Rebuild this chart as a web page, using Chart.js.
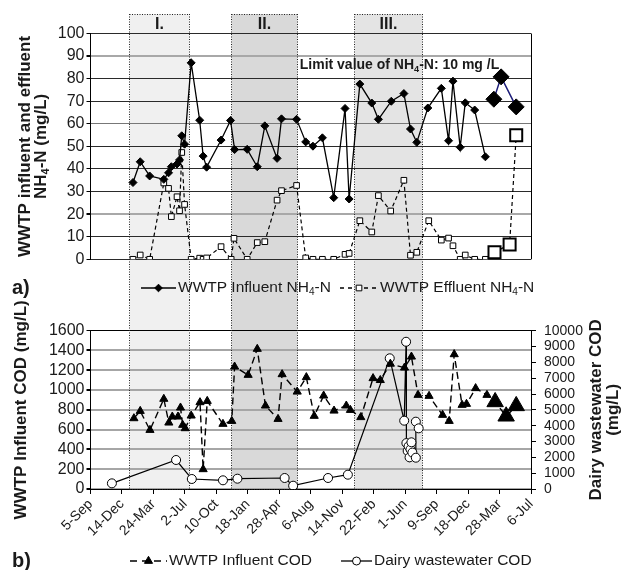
<!DOCTYPE html>
<html lang="en">
<head>
<meta charset="UTF-8">
<title>WWTP NH4-N and COD</title>
<script src="https://cdn.jsdelivr.net/npm/chart.js"></script>
<style>
  body { margin: 0; background: #fff; }
  canvas { display: block; }
</style>
</head>
<body>
<canvas id="nh4Chart" width="624" height="300"></canvas>
<canvas id="codChart" width="624" height="270"></canvas>
<script>
// x values are days counted from 5-Sep (ticks every 100 days)
const xLabels = ['5-Sep', '14-Dec', '24-Mar', '2-Jul', '10-Oct', '18-Jan', '28-Apr', '6-Aug',
                 '14-Nov', '22-Feb', '1-Jun', '9-Sep', '18-Dec', '28-Mar', '6-Jul'];

const bandStart = [122, 445, 837];
const bandEnd = [313, 655, 1055];
const bandNames = ['I.', 'II.', 'III.'];

// a) WWTP influent NH4-N
const nh4InDay = [135, 158, 188, 233, 248, 257, 275, 283, 290, 299, 320, 347, 358, 369, 415, 445, 458,
                  498, 530, 554, 593, 607, 655, 684, 707, 737, 773, 809, 822, 856, 894, 915,
                  956, 996, 1017, 1037, 1072, 1115, 1138, 1152, 1175, 1191, 1221, 1255];
const nh4InVal = [34.0, 43.2, 36.9, 35.4, 38.3, 41.0, 42.2, 44.0, 54.7, 51.0, 87.0, 61.6, 45.7, 40.8, 52.8, 61.5, 48.6,
                  48.7, 41.0, 59.1, 44.7, 62.2, 62.0, 52.0, 50.1, 53.8, 27.3, 66.8, 26.7, 77.6, 69.2, 62.0,
                  70.0, 73.4, 57.7, 51.8, 67.0, 75.7, 52.5, 78.9, 49.6, 69.3, 66.1, 45.4];
// last three influent samples (big markers)
const nh4InLastDay = [1282, 1305, 1353];
const nh4InLastVal = [70.9, 80.8, 67.5];

// a) WWTP effluent NH4-N (last three samples drawn big)
const nh4OutDay = [135, 158, 188, 233, 248, 257, 275, 283, 290, 299, 320, 347, 358, 369, 415, 447, 456,
                   498, 530, 554, 593, 607, 655, 684, 707, 737, 773, 809, 822, 856, 894, 915,
                   954, 996, 1017, 1037, 1075, 1115, 1138, 1152, 1175, 1191, 1221, 1255, 1284, 1332, 1353];
const nh4OutVal = [0, 1.9, 0, 33.8, 31.4, 18.9, 27.7, 21.5, 47.3, 24.3, 0, 0.5, 0, 0.6, 5.6, 0, 9.3,
                   0, 7.4, 7.8, 26.2, 30.4, 32.7, 0.6, 0, 0, 0, 2.2, 2.6, 17.1, 12.1, 28.2,
                   21.4, 35.0, 1.8, 3.1, 17.1, 8.5, 9.4, 6.0, 0, 1.9, 0, 0, 3.1, 6.6, 54.9];

// b) WWTP influent COD (last three samples drawn big)
const codInDay = [138, 158, 189, 233, 249, 260, 278, 286, 293, 301, 320, 348, 358, 371, 421, 449, 458,
                  501, 530, 556, 596, 609, 657, 686, 711, 741, 774, 813, 826, 859,
                  898, 921, 953, 998, 1020, 1041, 1076, 1119, 1140, 1156, 1181, 1195, 1224, 1260, 1286, 1321, 1353];
const codInVal = [714, 788, 596, 910, 670, 731, 731, 822, 647, 613, 741, 876, 199, 889, 657, 687, 1236,
                  1152, 1415, 842, 707, 1159, 983, 1129, 738, 943, 791, 842, 798, 725,
                  1119, 1100, 1265, 1226, 1337, 950, 940, 748, 687, 1361, 849, 859, 1018, 950, 880, 735, 840];

// b) dairy wastewater COD (right axis)
const dairyDay = [68, 272, 322, 421, 467, 617, 644, 755, 818, 951, 997, 1003, 1004, 1008, 1011,
                  1014, 1017, 1020, 1023, 1034, 1034, 1043];
const dairyVal = [358, 1832, 632, 549, 651, 695, 208, 695, 904, 8256, 4316, 9300, 2900, 2400, 2700,
                  2000, 2500, 2950, 2300, 1977, 4253, 3832];

const FONT = '"Liberation Sans", Arial, sans-serif';
Chart.defaults.font.family = FONT;
Chart.defaults.color = '#1a1a1a';

function fnt(size, bold) { return (bold ? 'bold ' : '') + size + 'px ' + FONT; }
function pts(days, vals) { return days.map((d, i) => ({ x: d, y: vals[i] })); }

// text with {sub} parts
function richText(ctx, str, x, y, size, bold, align) {
  const ps = str.split(/(\{[^}]*\})/).filter(s => s).map(s =>
    s[0] === '{' ? { t: s.slice(1, -1), sub: true } : { t: s });
  let w = 0;
  ps.forEach(p => { ctx.font = fnt(p.sub ? size * 0.65 : size, bold); p.w = ctx.measureText(p.t).width; w += p.w; });
  let cx = align === 'center' ? x - w / 2 : x;
  ctx.textAlign = 'left';
  ctx.textBaseline = 'middle';
  ps.forEach(p => {
    ctx.font = fnt(p.sub ? size * 0.65 : size, bold);
    ctx.fillText(p.t, cx, p.sub ? y + size * 0.3 : y);
    cx += p.w;
  });
}
function rotText(ctx, str, x, y, size, bold) {
  ctx.save();
  ctx.translate(x, y);
  ctx.rotate(-Math.PI / 2);
  richText(ctx, str, 0, 0, size, bold, 'center');
  ctx.restore();
}
function legendItem(ctx, x0, x1, y, dash, style, r, fill, label) {
  ctx.save();
  ctx.strokeStyle = '#000';
  ctx.lineWidth = 1.3;
  ctx.setLineDash(dash);
  ctx.beginPath(); ctx.moveTo(x0, y); ctx.lineTo(x1, y); ctx.stroke();
  ctx.setLineDash([]);
  ctx.fillStyle = fill;
  ctx.lineWidth = 1;
  Chart.helpers.drawPoint(ctx, { pointStyle: style, radius: r, rotation: 0, borderWidth: 1 }, (x0 + x1) / 2, y);
  ctx.fillStyle = '#1a1a1a';
  richText(ctx, label, x1 + 2, y, 15.5, false, 'left');
  ctx.restore();
}

const bandPlugin = {
  id: 'bands',
  beforeDraw(chart, args, opts) {
    const ctx = chart.ctx, xs = chart.scales.x;
    const top = opts.top, bottom = opts.edge === 'top' ? chart.height : chart.chartArea.bottom;
    ctx.save();
    bandStart.forEach((s, i) => {
      const x0 = Math.round(xs.getPixelForValue(s)) + 0.5;
      const x1 = Math.round(xs.getPixelForValue(bandEnd[i])) + 0.5;
      ctx.fillStyle = opts.colors[i];
      ctx.fillRect(x0, top, x1 - x0, bottom - top);
      if (opts.edge === 'top') {
        ctx.fillStyle = '#1a1a1a';
        ctx.font = fnt(16, true);
        ctx.textAlign = 'center';
        ctx.textBaseline = 'middle';
        ctx.fillText(bandNames[i], (x0 + x1) / 2, top + 11);
      }
    });
    ctx.restore();
  },
  beforeDatasetsDraw(chart, args, opts) {
    const ctx = chart.ctx, xs = chart.scales.x;
    const top = opts.top, bottom = opts.edge === 'top' ? chart.height : chart.chartArea.bottom;
    ctx.save();
    ctx.strokeStyle = '#222';
    ctx.lineWidth = 1;
    ctx.setLineDash([1, 1.5]);
    bandStart.forEach((s, i) => {
      const x0 = Math.round(xs.getPixelForValue(s)) + 0.5;
      const x1 = Math.round(xs.getPixelForValue(bandEnd[i])) + 0.5;
      const ey = opts.edge === 'top' ? top + 0.5 : Math.round(bottom) + 0.5;
      ctx.beginPath();
      ctx.moveTo(x0, top); ctx.lineTo(x0, bottom);
      ctx.moveTo(x1, top); ctx.lineTo(x1, bottom);
      ctx.moveTo(x0, ey); ctx.lineTo(x1, ey);
      ctx.stroke();
    });
    ctx.restore();
  }
};

const nh4Decor = {
  id: 'nh4Decor',
  beforeDatasetsDraw(chart) {
    const ctx = chart.ctx, a = chart.chartArea;
    ctx.save();
    ctx.strokeStyle = '#000';
    ctx.lineWidth = 1;
    ctx.beginPath();
    ctx.moveTo(Math.round(a.right) + 0.5, a.top);
    ctx.lineTo(Math.round(a.right) + 0.5, a.bottom);
    ctx.stroke();
    ctx.restore();
  },
  afterDraw(chart) {
    const ctx = chart.ctx, a = chart.chartArea;
    const xs = chart.scales.x, ys = chart.scales.y;
    ctx.save();
    ctx.fillStyle = '#1a1a1a';
    richText(ctx, 'Limit value of NH{4}-N: 10 mg /L', xs.getPixelForValue(665), ys.getPixelForValue(86), 14, true, 'left');
    const cy = (a.top + a.bottom) / 2;
    rotText(ctx, 'WWTP influent and effluent', 25, cy, 17, true);
    rotText(ctx, 'NH{4}-N (mg/L)', 41, cy, 17, true);
    ctx.font = fnt(20, true);
    ctx.textAlign = 'left';
    ctx.textBaseline = 'middle';
    ctx.fillText('a)', 12, 288);
    legendItem(ctx, 141, 176, 288, [], 'rectRot', 3.8, '#000', 'WWTP Influent NH{4}-N');
    legendItem(ctx, 340, 378, 288, [4, 4], 'rect', 4, '#fff', 'WWTP Effluent NH{4}-N');
    ctx.restore();
  }
};

const codDecor = {
  id: 'codDecor',
  afterDraw(chart) {
    const ctx = chart.ctx, a = chart.chartArea;
    const cy = (a.top + a.bottom) / 2;
    ctx.save();
    ctx.fillStyle = '#1a1a1a';
    rotText(ctx, 'WWTP Influent COD (mg/L)', 21, cy, 17, true);
    rotText(ctx, 'Dairy wastewater COD', 596, cy, 17, true);
    rotText(ctx, '(mg/L)', 613, cy, 17, true);
    ctx.font = fnt(20, true);
    ctx.textAlign = 'left';
    ctx.textBaseline = 'middle';
    ctx.fillText('b)', 12, 261);
    legendItem(ctx, 130, 167, 261, [7, 5], 'triangle', 4.7, '#000', 'WWTP Influent COD');
    legendItem(ctx, 341, 372, 261, [], 'circle', 4, '#fff', 'Dairy wastewater COD');
    ctx.restore();
  }
};

const big = (n, i, small, large) => (i >= n - 3 ? large : small);

new Chart(document.getElementById('nh4Chart'), {
  type: 'line',
  data: {
    datasets: [
      {
        data: pts(nh4InDay, nh4InVal),
        borderColor: '#000', borderWidth: 1.3, tension: 0,
        pointStyle: 'rectRot', pointRadius: 4, pointBackgroundColor: '#000',
        pointBorderColor: '#000', pointBorderWidth: 1
      },
      {
        data: pts(nh4InLastDay, nh4InLastVal),
        borderColor: '#1c1c78', borderWidth: 1.5, tension: 0,
        pointStyle: 'rectRot', pointRadius: 8, pointBackgroundColor: '#000',
        pointBorderColor: '#000', pointBorderWidth: 1
      },
      {
        data: pts(nh4OutDay, nh4OutVal),
        borderColor: '#000', borderWidth: 1.2, borderDash: [4, 3], tension: 0,
        pointStyle: 'rect',
        pointRadius: nh4OutDay.map((d, i) => big(nh4OutDay.length, i, 4, 8.5)),
        pointBorderWidth: nh4OutDay.map((d, i) => big(nh4OutDay.length, i, 1, 2)),
        pointBackgroundColor: '#fff', pointBorderColor: '#000'
      }
    ]
  },
  options: {
    responsive: false,
    animation: false,
    layout: { padding: { top: 33.5, right: 93, left: 0, bottom: 40.7 } },
    plugins: {
      legend: { display: false },
      tooltip: { enabled: false },
      bands: { top: 14, edge: 'top', colors: ['#f0f0f0', '#d9d9d9', '#e4e4e4'] }
    },
    scales: {
      x: { type: 'linear', min: 0, max: 1400, display: false },
      y: {
        min: 0, max: 100,
        afterFit: s => { s.width = 90.5; },
        ticks: { stepSize: 10, autoSkip: false, font: { size: 16 }, padding: 2, callback: v => v },
        border: { color: '#000', width: 1 },
        grid: {
          color: c => ({ 90: '#a8a8a8', 20: '#a8a8a8', 60: '#777' }[c.tick.value] || '#2a2a2a'),
          lineWidth: c => ([90, 20].includes(c.tick.value) ? 2 : 1),
          tickColor: '#000', tickLength: 4
        }
      }
    }
  },
  plugins: [bandPlugin, nh4Decor]
});

new Chart(document.getElementById('codChart'), {
  type: 'line',
  data: {
    datasets: [
      {
        data: pts(codInDay, codInVal), yAxisID: 'y',
        borderColor: '#000', borderWidth: 1.4, borderDash: [7, 4], tension: 0,
        pointStyle: 'triangle',
        pointRadius: codInDay.map((d, i) => big(codInDay.length, i, 4.7, 9.5)),
        pointBackgroundColor: '#000', pointBorderColor: '#000', pointBorderWidth: 1
      },
      {
        data: pts(dairyDay, dairyVal), yAxisID: 'y2',
        borderColor: '#000', borderWidth: 1.2, tension: 0,
        pointStyle: 'circle', pointRadius: 4.5,
        pointBackgroundColor: '#fff', pointBorderColor: '#000', pointBorderWidth: 1
      }
    ]
  },
  options: {
    responsive: false,
    animation: false,
    layout: { padding: { top: 30.7, right: 0, left: 0, bottom: 0 } },
    plugins: {
      legend: { display: false },
      tooltip: { enabled: false },
      bands: { top: 0, edge: 'bottom', colors: ['#f0f0f0', '#d9d9d9', '#e4e4e4'] }
    },
    scales: {
      x: {
        type: 'linear', min: 0, max: 1400,
        afterFit: s => { s.height = 81; },
        ticks: {
          stepSize: 100, autoSkip: false, minRotation: 45, maxRotation: 45,
          font: { size: 14 }, padding: 2,
          callback: v => xLabels[Math.round(v / 100)]
        },
        border: { color: '#000', width: 1 },
        grid: { drawOnChartArea: false, tickColor: '#000', tickLength: 5 }
      },
      y: {
        position: 'left', min: 0, max: 1600,
        afterFit: s => { s.width = 90.5; },
        ticks: { stepSize: 200, autoSkip: false, font: { size: 16 }, padding: 2, callback: v => v },
        border: { color: '#000', width: 1 },
        grid: {
          color: c => (c.tick.value === 1600 ? '#000' : '#a6a6a6'),
          lineWidth: c => (c.tick.value === 1600 ? 1 : 2),
          tickColor: '#000', tickLength: 4
        }
      },
      y2: {
        position: 'right', min: 0, max: 10000,
        afterFit: s => { s.width = 93; },
        ticks: { stepSize: 1000, autoSkip: false, font: { size: 14 }, padding: 8, callback: v => v },
        border: { color: '#000', width: 1 },
        grid: { drawOnChartArea: false, tickColor: '#000', tickLength: 5 }
      }
    }
  },
  plugins: [bandPlugin, codDecor]
});
</script>
</body>
</html>
